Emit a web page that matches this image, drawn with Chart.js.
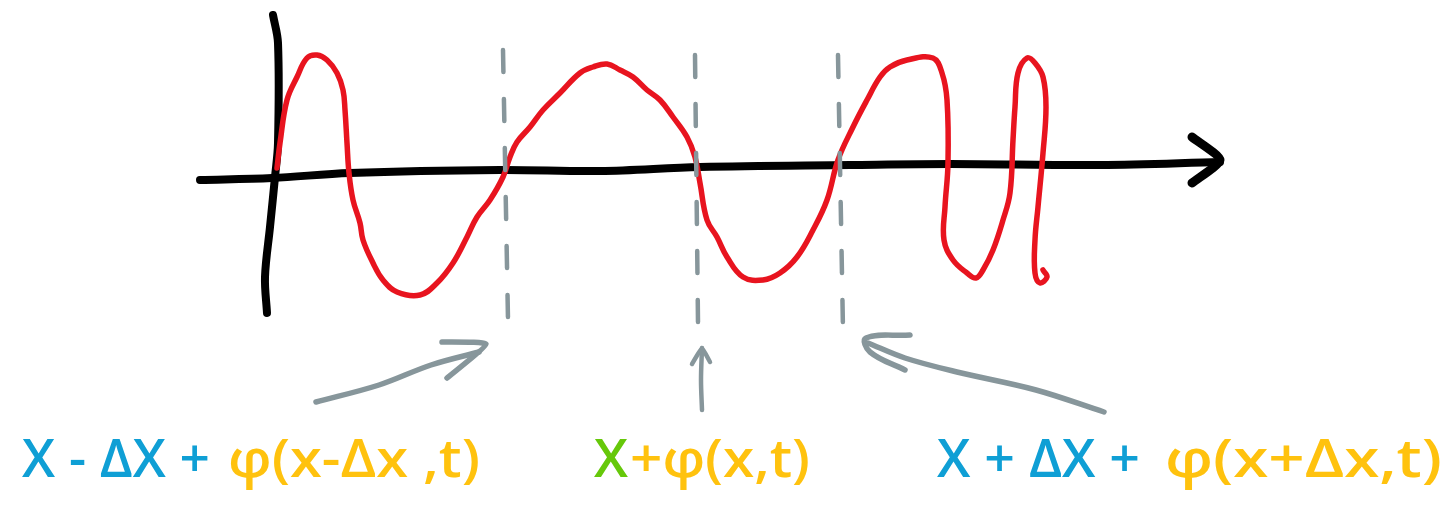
<!DOCTYPE html>
<html>
<head>
<meta charset="utf-8">
<script src="https://cdn.jsdelivr.net/npm/chart.js@4/dist/chart.umd.min.js"></script>
<style>
  html, body { margin: 0; padding: 0; background: #ffffff; }
  #wrap { width: 1452px; height: 508px; position: relative; }
</style>
</head>
<body>
<div id="wrap"><canvas id="c"></canvas></div>
<script>
// Sketch coordinates: x to the right from the page's left edge, y downward from the top edge (px-like units).

// Red wave (hand-drawn)
const waveX = [277,280,287,297,307,317,327,337,343,345,347,349,353,360,363,373,383,397,420,437,453,467,477,490,503,510,517,530,543,560,580,593,607,620,633,647,660,673,687,695,700,707,717,727,743,763,780,797,813,827,838,853,867,880,890,907,933,942,947,948,945,944,953,967,976,983,993,1003,1010,1013,1015,1018,1027,1035,1043,1046,1043,1038,1035,1035,1040,1047,1043];
const waveY = [168,143,100,77,58,55,60,73,90,110,143,173,200,223,240,263,280,292,295,283,263,237,217,200,177,157,142,127,110,93,73,67,64,70,77,90,100,117,137,157,183,220,237,257,277,280,273,257,230,200,160,127,100,77,67,60,58,73,100,163,207,240,260,273,278,270,250,220,193,140,107,73,58,63,77,107,153,207,240,273,283,277,270];

// Horizontal axis (slightly wavy) and its arrow head
const xAxisX = [200,272,350,500,600,700,850,950,1100,1220];
const xAxisY = [180,178,173,170,171,167,165,164,165,162];
const xHeadX = [1192,1220,1192];
const xHeadY = [137,160,183];

// Vertical axis
const yAxisX = [273,278,278,275,270,265,267];
const yAxisY = [15,43,143,177,227,277,313];

// Dashed guide lines (x - Δx, x, x + Δx)
const guideTopX = [503,695,838];
const guideBotX = [508,698,843];
const guideTopY = [50,55,55];
const guideBotY = [320,322,330];

// Gray arrows
const arrowLeftX = [316,379,431,479];
const arrowLeftY = [402,385,365,352];
const arrowLeftHeadX = [442,486,447];
const arrowLeftHeadY = [342,344,378];
const arrowMidX = [702,701,702];
const arrowMidY = [410,380,348];
const arrowMidHeadX = [692,702,710];
const arrowMidHeadY = [364,348,362];
const arrowRightX = [1104,1036,957,905,868];
const arrowRightY = [412,390,372,358,343];
const arrowRightHeadX = [910,866,870,905];
const arrowRightHeadY = [335,338,352,370];

// Labels: segments [text, colorKey, startX, endX]
const labelBaseY = 477;
const labelSegments = [
  ["X - ΔX +", "blue", 22, 210],
  ["φ(x-Δx ,t)", "orange", 228, 480],
  ["X", "green", 594, 628],
  ["+φ(x,t)", "orange", 630, 810],
  ["X + ΔX +", "blue", 937, 1140],
  ["φ(x+Δx,t)", "orange", 1165, 1442]
];

const COLORS = {
  red: "#E8141F",
  black: "#000000",
  gray: "#87969B",
  blue: "#0F9FD5",
  orange: "#FFC20E",
  green: "#66C80A"
};

function pts(xs, ys) { return xs.map((x, i) => ({ x: x, y: ys[i] })); }

const datasets = [];
function addLine(xs, ys, color, width, extra) {
  datasets.push(Object.assign({
    data: pts(xs, ys),
    showLine: true,
    borderColor: color,
    backgroundColor: color,
    borderWidth: width,
    pointRadius: 0,
    pointHoverRadius: 0,
    tension: 0.35,
    borderCapStyle: "round",
    borderJoinStyle: "round",
    fill: false
  }, extra || {}));
}

addLine(xAxisX, xAxisY, COLORS.black, 8, { order: 3 });
addLine(xHeadX, xHeadY, COLORS.black, 9, { order: 3, tension: 0.2 });
addLine(yAxisX, yAxisY, COLORS.black, 8, { order: 3 });
addLine(waveX, waveY, COLORS.red, 5.5, { order: 2, tension: 0.4 });
for (let i = 0; i < guideTopX.length; i++) {
  addLine([guideTopX[i], guideBotX[i]], [guideTopY[i], guideBotY[i]], COLORS.gray, 4.5,
    { order: 1, tension: 0, borderDash: [22, 27] });
}
addLine(arrowLeftX, arrowLeftY, COLORS.gray, 5.5, { order: 1 });
addLine(arrowLeftHeadX, arrowLeftHeadY, COLORS.gray, 5.5, { order: 1, tension: 0.15 });
addLine(arrowMidX, arrowMidY, COLORS.gray, 4.5, { order: 1 });
addLine(arrowMidHeadX, arrowMidHeadY, COLORS.gray, 4.5, { order: 1, tension: 0.1 });
addLine(arrowRightX, arrowRightY, COLORS.gray, 5.5, { order: 1 });
addLine(arrowRightHeadX, arrowRightHeadY, COLORS.gray, 5.5, { order: 1, tension: 0.4 });

const labelPlugin = {
  id: "labels",
  afterDatasetsDraw(chart) {
    const ctx = chart.ctx;
    const xs = chart.scales.x, ys = chart.scales.y;
    ctx.save();
    ctx.font = "600 52px 'Open Sans', 'DejaVu Sans', sans-serif";
    ctx.textBaseline = "alphabetic";
    ctx.textAlign = "left";
    labelSegments.forEach(seg => {
      const x0 = xs.getPixelForValue(seg[2]);
      const x1 = xs.getPixelForValue(seg[3]);
      const y = ys.getPixelForValue(labelBaseY);
      const w = ctx.measureText(seg[0]).width;
      const target = x1 - x0;
      ctx.fillStyle = COLORS[seg[1]];
      ctx.save();
      ctx.translate(x0, y);
      ctx.scale(target / w, 1);
      ctx.fillText(seg[0], 0, 0);
      ctx.restore();
    });
    ctx.restore();
  }
};

new Chart(document.getElementById("c"), {
  type: "scatter",
  data: { datasets: datasets },
  options: {
    responsive: true,
    maintainAspectRatio: false,
    animation: false,
    layout: { padding: 0 },
    plugins: { legend: { display: false }, tooltip: { enabled: false } },
    scales: {
      x: { type: "linear", min: 0, max: 1452, display: false },
      y: { type: "linear", min: 0, max: 508, reverse: true, display: false }
    }
  },
  plugins: [labelPlugin]
});
</script>
</body>
</html>
